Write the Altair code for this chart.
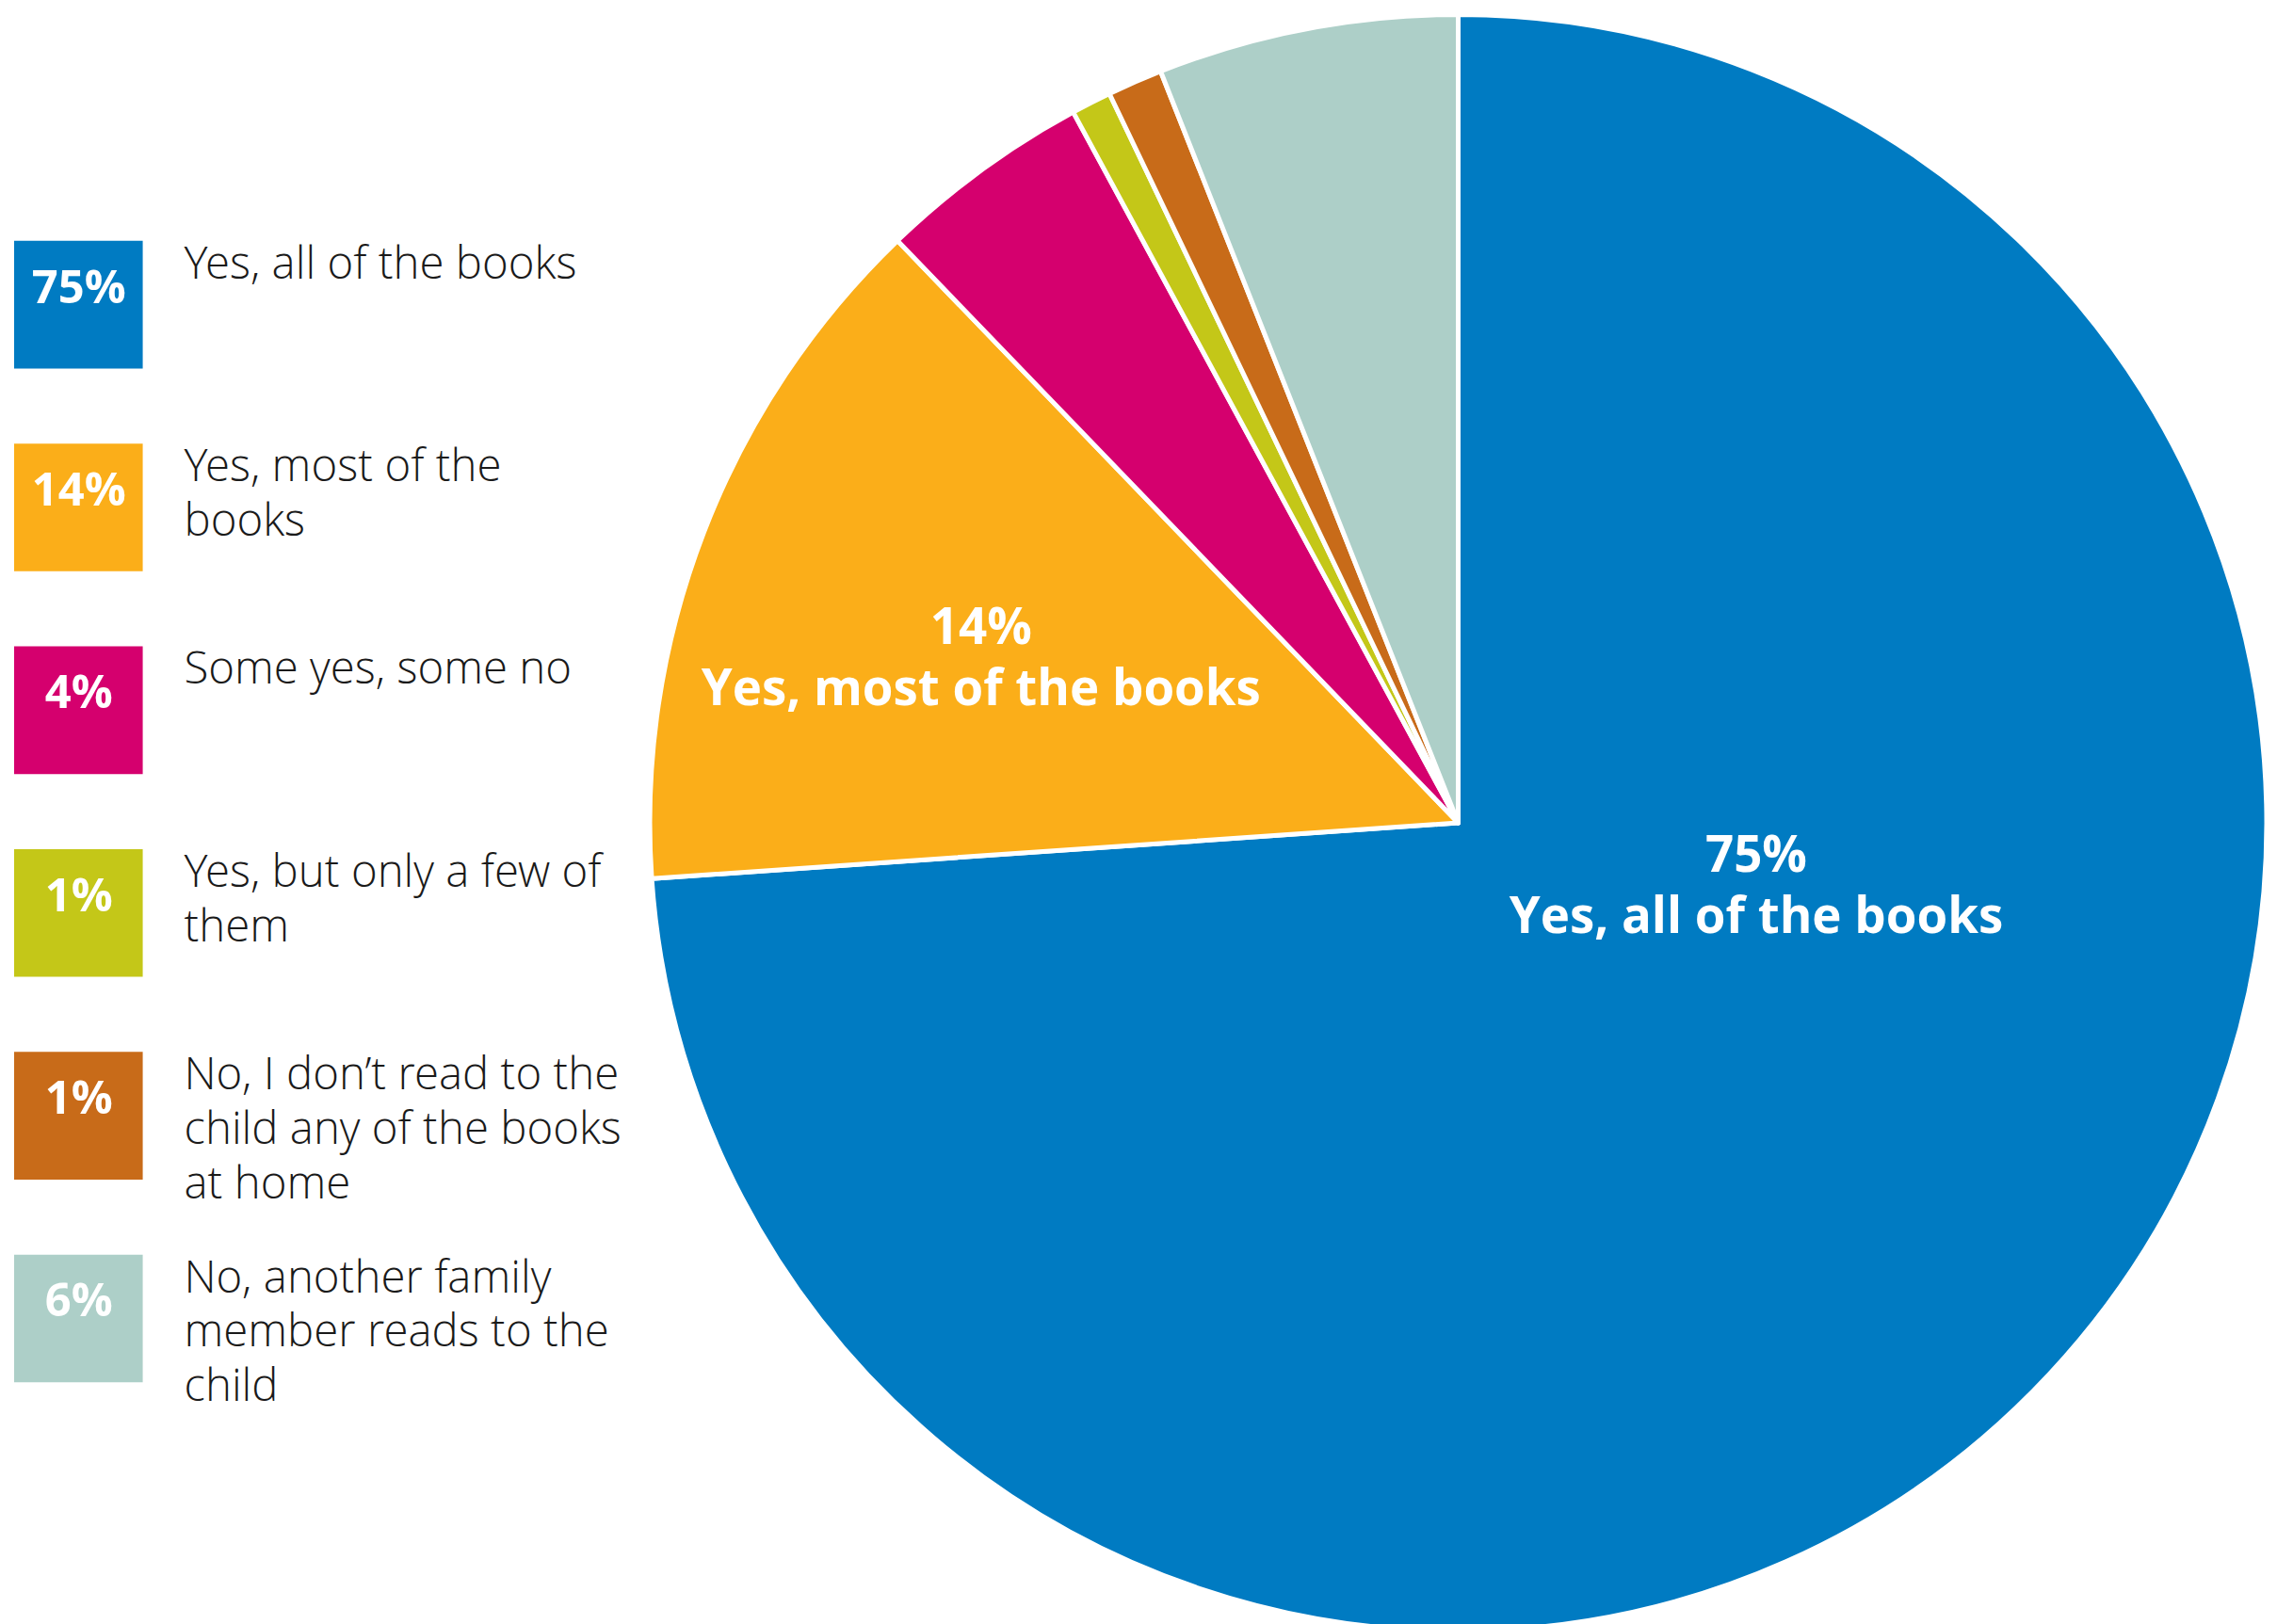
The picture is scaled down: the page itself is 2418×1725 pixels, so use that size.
import altair as alt
import pandas as pd

categories = [
    "Yes, all of the books",
    "Yes, most of the books",
    "Some yes, some no",
    "Yes, but only a few of them",
    "No, I don’t read to the child any of the books at home",
    "No, another family member reads to the child",
]
values = [73.9, 13.9, 4.3, 0.8, 1.1, 6.0]
pct_labels = ["75%", "14%", "4%", "1%", "1%", "6%"]
legend_labels = [
    "Yes, all of the books",
    "Yes, most of the\nbooks",
    "Some yes, some no",
    "Yes, but only a few of\nthem",
    "No, I don’t read to the\nchild any of the books\nat home",
    "No, another family\nmember reads to the\nchild",
]
slice_labels = ["75%\nYes, all of the books", "14%\nYes, most of the books", "", "", "", ""]
colors = ["#007BC2", "#FBAE19", "#D5006E", "#C4C718", "#C86B19", "#ADCFC8"]

df = pd.DataFrame({
    "category": categories,
    "value": values,
    "pct": pct_labels,
    "legend": legend_labels,
    "slice_label": slice_labels,
    "order": list(range(len(categories))),
})
total = sum(values)

FONT = "Open Sans"
color_scale = alt.Scale(domain=categories, range=colors)
base = alt.Chart(df)

# ---------- pie ----------
CX, CY = 858, 866
arcs = base.mark_arc(radius=861, stroke="white", strokeWidth=5, strokeJoin="round").encode(
    theta=alt.Theta("value:Q", stack=True, scale=alt.Scale(domain=[0, total])),
    order=alt.Order("order:Q"),
    color=alt.Color("category:N", scale=color_scale, legend=None),
    x=alt.value(CX),
    y=alt.value(CY),
)

label_base = base.transform_window(
    cum="sum(value)", sort=[alt.SortField("order")], frame=[None, 0]
).transform_calculate(mid="datum.cum - datum.value / 2")

text_style = dict(font=FONT, fontWeight="bold", fontSize=53, color="white",
                  align="center", baseline="middle", lineBreak="\n", lineHeight=65)

theta_mid = alt.Theta("mid:Q", stack=None, scale=alt.Scale(domain=[0, total]))

orange_lbl = label_base.transform_filter("datum.order == 1").mark_text(
    radius=536, dx=-8, dy=-14, **text_style
).encode(theta=theta_mid, text="slice_label:N", x=alt.value(CX), y=alt.value(CY))

blue_lbl = label_base.transform_filter("datum.order == 0").mark_text(
    radius=326, dx=79, dy=-186, **text_style
).encode(theta=theta_mid, text="slice_label:N", x=alt.value(CX), y=alt.value(CY))

pie = alt.layer(arcs, orange_lbl, blue_lbl).properties(width=1716, height=1709)

# ---------- legend ----------
y_scale = alt.Scale(domain=categories, range=[246, 1462], paddingInner=80 / 216, paddingOuter=0)

boxes = base.mark_rect().encode(
    x=alt.value(7), x2=alt.value(144),
    y=alt.Y("category:N", scale=y_scale, axis=None, sort=categories),
    color=alt.Color("category:N", scale=color_scale, legend=None),
)
box_text = base.mark_text(font=FONT, fontWeight="bold", fontSize=49, color="white",
                          align="center", baseline="middle", dy=-17).encode(
    x=alt.value(76),
    y=alt.Y("category:N", scale=y_scale, axis=None, sort=categories),
    text="pct:N",
)
names = base.mark_text(font="'Open Sans Light', 'Open Sans'", fontWeight=300, fontSize=47.5,
                       color="#1a1a1a", align="left", baseline="top", lineBreak="\n",
                       lineHeight=58, dy=2).encode(
    x=alt.value(188),
    y=alt.Y("category:N", scale=y_scale, axis=None, sort=categories, bandPosition=0),
    text="legend:N",
)
legend = alt.layer(boxes, box_text, names).properties(width=681, height=1709)

chart = alt.hconcat(legend, pie, spacing=0).properties(padding=0).configure_view(stroke=None)

chart.save("out.html", embed_options={"renderer": "svg", "actions": False})
